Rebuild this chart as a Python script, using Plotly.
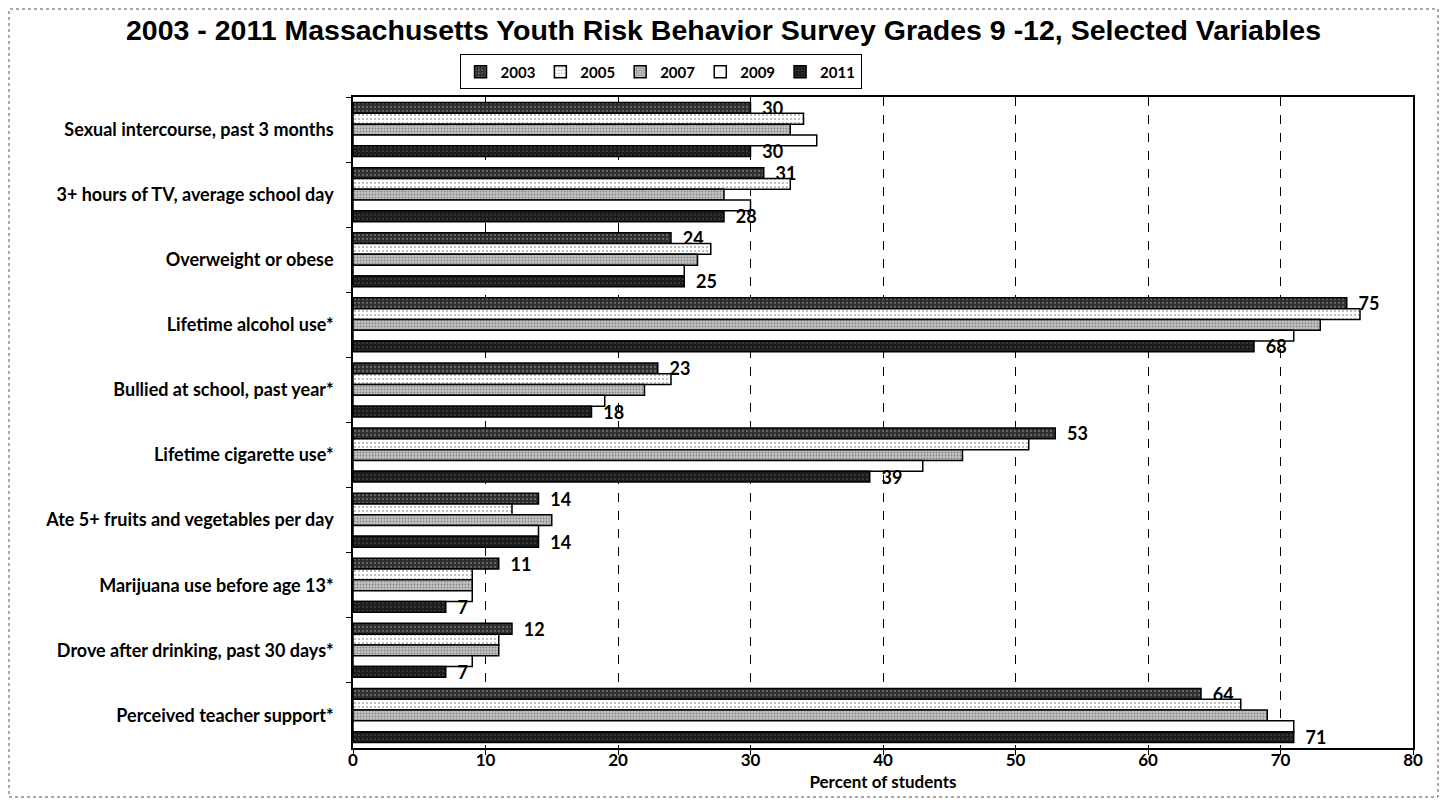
import plotly.graph_objects as go

categories = [
    "Sexual intercourse, past 3 months",
    "3+ hours of TV, average school day",
    "Overweight or obese",
    "Lifetime alcohol use*",
    "Bullied at school, past year*",
    "Lifetime cigarette use*",
    "Ate 5+ fruits and vegetables per day",
    "Marijuana use before age 13*",
    "Drove after drinking, past 30 days*",
    "Perceived teacher support*",
]
years = ["2003", "2005", "2007", "2009", "2011"]
v2003 = [30, 31, 24, 75, 23, 53, 14, 11, 12, 64]
v2005 = [34, 33, 27, 76, 24, 51, 12, 9, 11, 67]
v2007 = [33, 28, 26, 73, 22, 46, 15, 9, 11, 69]
v2009 = [35, 30, 25, 71, 19, 43, 14, 9, 9, 71]
v2011 = [30, 28, 25, 68, 18, 39, 14, 7, 7, 71]
series = [v2003, v2005, v2007, v2009, v2011]
labelled = [True, False, False, False, True]

styles = [
    dict(color="#2e2e2e", pattern=dict(shape=".", fgcolor="#a0a0a0", size=4, solidity=0.25)),
    dict(color="#ffffff", pattern=dict(shape=".", fgcolor="#555555", size=4, solidity=0.2)),
    dict(color="#c4c4c4", pattern=dict(shape=".", fgcolor="#444444", size=3, solidity=0.3)),
    dict(color="#ffffff"),
    dict(color="#1c1c1c", pattern=dict(shape=".", fgcolor="#808080", size=4, solidity=0.15)),
]

FONT = "Lato"
W, H = 1431, 790
fig = go.Figure()
for yr, vals, st, lab in zip(years, series, styles, labelled):
    fig.add_trace(go.Bar(
        name=yr, y=categories, x=vals, orientation="h",
        marker=dict(line=dict(color="black", width=1.5), **st),
        text=["  " + str(v) for v in vals] if lab else None,
        textposition="outside" if lab else None,
        textfont=dict(family=FONT, size=18, color="black", weight="bold"),
        constraintext="none", cliponaxis=False,
    ))

ml, mr, mt, mb = 345, 26, 89, 50
pw, ph = W - ml - mr, H - mt - mb

fig.update_layout(
    width=W, height=H,
    barmode="group", bargap=0.17, bargroupgap=0,
    plot_bgcolor="white", paper_bgcolor="white",
    margin=dict(l=ml, r=mr, t=mt, b=mb, autoexpand=False),
    title=dict(
        text="<b>2003 - 2011 Massachusetts Youth Risk Behavior Survey Grades 9 -12, Selected Variables</b>",
        x=0.5, xref="container", xanchor="center", y=0.972, yanchor="middle",
        font=dict(family="Liberation Sans", size=28.5, color="black"),
    ),
    legend=dict(
        orientation="h", x=0.456, xref="container", xanchor="center", y=0.919, yref="container",
        yanchor="middle", bordercolor="black", borderwidth=1,
        font=dict(family=FONT, size=15, color="black", weight="bold"),
        itemwidth=30, tracegroupgap=0,
    ),
    xaxis=dict(
        range=[0, 80], dtick=10, showgrid=True, gridcolor="black", griddash="dash", gridwidth=1,
        showline=True, linecolor="black", linewidth=1.5, mirror=True,
        ticks="outside", ticklen=5, tickcolor="black", zeroline=False,
        ticklabelstandoff=-9,
        tickfont=dict(family=FONT, size=17, color="black", weight="bold"),
        title=dict(text="Percent of students", standoff=7,
                   font=dict(family=FONT, size=17, color="black", weight="bold")),
    ),
    yaxis=dict(
        autorange="reversed", showgrid=False, showline=True, linecolor="black", linewidth=1.5,
        mirror=True, ticks="outside", ticklen=5, tickcolor="black", tickson="boundaries",
        tickfont=dict(family=FONT, size=18, color="black", weight="bold"), ticklabelstandoff=14,
    ),
    shapes=[dict(type="rect", xref="paper", yref="paper",
                 x0=-(ml - 1) / pw, x1=1 + (mr - 1) / pw,
                 y0=-(mb - 1) / ph, y1=1 + (mt - 1) / ph,
                 line=dict(color="#555555", width=1, dash="dot"))],
)

fig.write_html("out.html")
